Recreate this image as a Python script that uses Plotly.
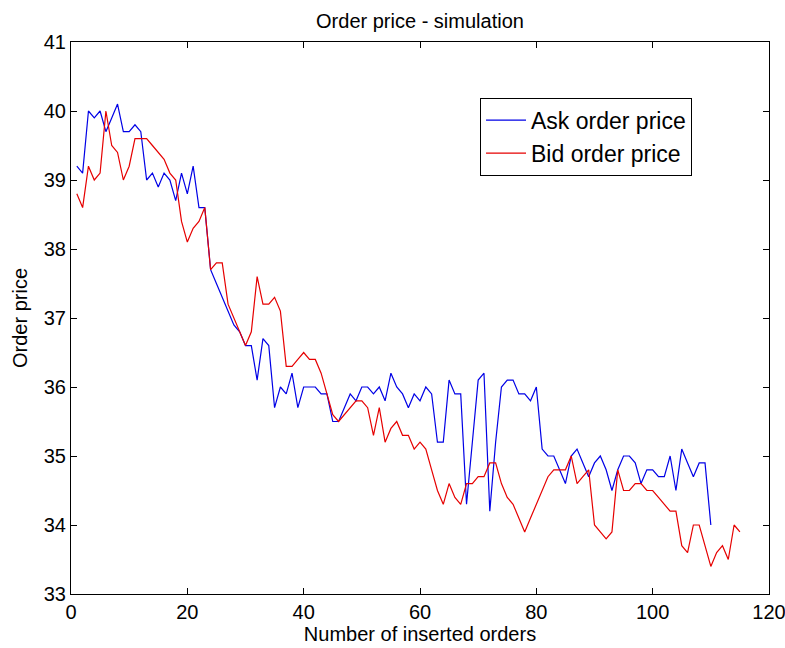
import plotly.graph_objects as go

ask_price = [39.2, 39.1, 40.0, 39.9, 40.0, 39.7, 39.9, 40.1, 39.7, 39.7,
             39.8, 39.7, 39.0, 39.1, 38.9, 39.1, 39.0, 38.7, 39.1, 38.8,
             39.2, 38.6, 38.6, 37.7, 37.5, 37.3, 37.1, 36.9, 36.8, 36.6,
             36.6, 36.1, 36.7, 36.6, 35.7, 36.0, 35.9, 36.2, 35.7, 36.0,
             36.0, 36.0, 35.9, 35.9, 35.5, 35.5, 35.7, 35.9, 35.8, 36.0,
             36.0, 35.9, 36.0, 35.8, 36.2, 36.0, 35.9, 35.7, 35.9, 35.8,
             36.0, 35.9, 35.2, 35.2, 36.1, 35.9, 35.9, 34.3, 35.2, 36.1,
             36.2, 34.2, 35.2, 36.0, 36.1, 36.1, 35.9, 35.9, 35.8, 36.0,
             35.1, 35.0, 35.0, 34.8, 34.6, 35.0, 35.1, 34.9, 34.7, 34.9,
             35.0, 34.8, 34.5, 34.8, 35.0, 35.0, 34.9, 34.6, 34.8, 34.8,
             34.7, 34.7, 35.0, 34.5, 35.1, 34.9, 34.7, 34.9, 34.9, 34.0]

bid_price = [38.8, 38.6, 39.2, 39.0, 39.1, 40.0, 39.5, 39.4, 39.0, 39.2,
             39.6, 39.6, 39.6, 39.5, 39.4, 39.3, 39.1, 39.0, 38.4, 38.1,
             38.3, 38.4, 38.6, 37.7, 37.8, 37.8, 37.2, 37.0, 36.8, 36.6,
             36.8, 37.6, 37.2, 37.2, 37.3, 37.1, 36.3, 36.3, 36.4, 36.5,
             36.4, 36.4, 36.2, 35.9, 35.6, 35.5, 35.6, 35.7, 35.8, 35.8,
             35.7, 35.3, 35.7, 35.2, 35.4, 35.5, 35.3, 35.3, 35.1, 35.2,
             35.1, 34.8, 34.5, 34.3, 34.6, 34.4, 34.3, 34.6, 34.6, 34.7,
             34.7, 34.9, 34.9, 34.6, 34.4, 34.3, 34.1, 33.9, 34.1, 34.3,
             34.5, 34.7, 34.8, 34.8, 34.8, 35.0, 34.6, 34.7, 34.8, 34.0,
             33.9, 33.8, 33.9, 34.8, 34.5, 34.5, 34.6, 34.6, 34.5, 34.5,
             34.4, 34.3, 34.2, 34.2, 33.7, 33.6, 34.0, 34.0, 33.7, 33.4,
             33.6, 33.7, 33.5, 34.0, 33.9]

ask_x = list(range(1, len(ask_price) + 1))
bid_x = list(range(1, len(bid_price) + 1))

FONT = "Liberation Sans, Arial, sans-serif"

fig = go.Figure()
fig.add_trace(go.Scatter(x=ask_x, y=ask_price, mode="lines", name="Ask order price",
                         line=dict(color="#0000e6", width=1.2)))
fig.add_trace(go.Scatter(x=bid_x, y=bid_price, mode="lines", name="Bid order price",
                         line=dict(color="#e60000", width=1.2)))

axis_common = dict(showgrid=False, zeroline=False, showline=True, linecolor="black",
                   linewidth=1, mirror="ticks", ticks="inside", ticklen=6,
                   tickcolor="black", ticklabeloverflow="allow", automargin=False,
                   tickfont=dict(family=FONT, size=20, color="black"))

fig.update_layout(
    width=785, height=648,
    margin=dict(l=71, r=16, t=42, b=54),
    paper_bgcolor="white", plot_bgcolor="white",
    font=dict(family=FONT, size=20, color="black"),
    title=dict(text="Order price - simulation", x=0.535, xanchor="center",
               y=0.968, yanchor="middle", font=dict(family=FONT, size=20, color="black")),
    xaxis=dict(range=[0, 120], tickmode="linear", tick0=0, dtick=20,
               title=dict(text="Number of inserted orders", standoff=4,
                          font=dict(family=FONT, size=20)), **axis_common),
    yaxis=dict(range=[33, 41], tickmode="linear", tick0=33, dtick=1,
               title=dict(text="Order price", standoff=10,
                          font=dict(family=FONT, size=20)), **axis_common),
    legend=dict(x=0.586, y=0.899, xanchor="left", yanchor="top",
                bgcolor="white", bordercolor="black", borderwidth=1,
                font=dict(family=FONT, size=23, color="black"),
                itemwidth=40, tracegroupgap=0),
    showlegend=True,
)

fig.write_html("out.html")
